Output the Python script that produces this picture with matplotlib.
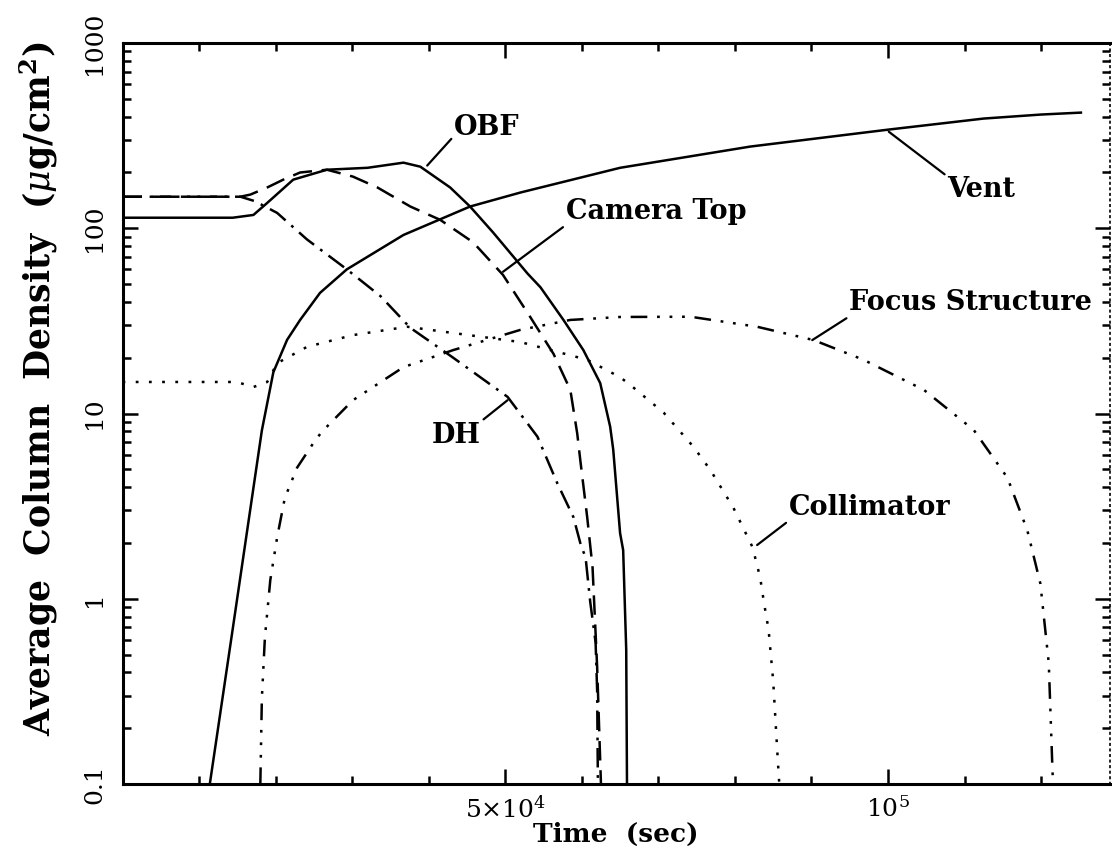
import matplotlib
matplotlib.use("Agg")
import matplotlib.pyplot as plt
from matplotlib.ticker import FixedLocator, LogLocator, NullFormatter

# time in units of 1000 s, average column density in ug/cm^2
obf_t = [0, 14.4, 17.1, 18.9, 22.3, 26.7, 32.0, 36.7, 38.9, 42.8, 45.4, 48.4,
         52.9, 54.6, 57.6, 60.2, 62.4, 63.7, 64.1, 65.0, 65.4, 65.8, 65.9]
obf_n = [114, 114, 118, 137, 183, 207, 212, 226, 215, 166, 131, 95,
         57, 48, 32, 22, 14.6, 8.5, 6.4, 2.26, 1.83, 0.53, 0.1]

vent_t = [11.4, 14.4, 18.2, 19.7, 21.5, 23.2, 25.8, 29.3, 36.7, 45.4, 52.0,
          65.0, 82.0, 100.1, 112.5, 120.0, 125.2]
vent_n = [0.1, 0.69, 8.1, 16.7, 25, 32, 44.8, 60, 92, 131, 156,
          212, 276, 341, 391, 411, 421]

cam_t = [0, 15.4, 16.7, 18.9, 21.0, 23.2, 26.7, 30.1, 33.3, 37.6, 41.5, 45.8,
         49.7, 53.3, 56.3, 58.5, 59.4, 59.8, 60.7, 61.4, 62.0, 62.4, 62.5]
cam_n = [148, 148, 152, 166, 183, 200, 207, 190, 166, 131, 111, 84,
         56, 33, 21, 13.4, 7.8, 5.6, 2.76, 1.48, 0.43, 0.134, 0.1]

dh_t = [0, 15.4, 17.3, 20.2, 24.1, 29.3, 33.7, 37.6, 43.2, 50.3, 54.2,
        56.8, 58.9, 59.8, 60.5, 61.1, 61.8, 62.0, 62.1]
dh_n = [148, 148, 140, 121, 87, 60, 43, 29, 20, 12.3, 7.5,
        4.2, 2.76, 2.0, 1.66, 0.96, 0.58, 0.32, 0.1]

col_t = [0, 14.9, 17.1, 18.9, 20.2, 24.1, 30.1, 37.2, 43.2, 52.0, 60.7, 65.0,
         66.3, 70.7, 74.6, 76.8, 79.8, 82.3, 83.3, 83.8, 84.4, 85.0, 85.7, 85.8]
col_n = [14.8, 14.8, 13.9, 14.8, 18.7, 22.9, 26.5, 29.4, 27.2, 24.3, 19.5, 15.7,
         14.3, 10.1, 6.6, 4.95, 3.1, 1.9, 1.3, 0.95, 0.68, 0.36, 0.115, 0.1]

foc_t = [18.0, 18.2, 18.6, 19.3, 20.2, 21.2, 22.8, 24.9, 26.0, 30.1, 36.7, 43.2,
         52.0, 58.5, 65.0, 74.2, 82.9, 90.3, 96.8, 104.7, 111.2, 115.6, 118.2,
         119.9, 121.0, 121.5, 121.6]
foc_n = [0.1, 0.29, 0.62, 1.26, 2.15, 3.5, 5.1, 6.9, 7.94, 11.8, 17.8, 22,
         28.3, 32, 33.2, 33.3, 29.4, 24.9, 19.5, 13.4, 8.15, 4.5, 2.34,
         1.21, 0.45, 0.114, 0.1]

xticks = [5e4, 1e5]
xtick_labels = [r"$5{\times}10^4$", r"$10^5$"]
yticks = [0.1, 1, 10, 100, 1000]
ytick_labels = ["0.1", "1", "10", "100", "1000"]

plt.rcParams["mathtext.fontset"] = "dejavuserif"
plt.rcParams["font.family"] = "DejaVu Serif"
plt.rcParams["lines.scale_dashes"] = False

fig = plt.figure(figsize=(11.12, 8.67), dpi=100)
ax = fig.add_axes([0.1102, 0.0957, 0.888, 0.8547])

k = 1000.0
lw = 1.8
ax.plot([t * k for t in obf_t], obf_n, color="black", lw=lw)
ax.plot([t * k for t in vent_t], vent_n, color="black", lw=lw)
ax.plot([t * k for t in cam_t], cam_n, color="black", lw=lw, dashes=(14, 7))
ax.plot([t * k for t in dh_t], dh_n, color="black", lw=lw, dashes=(14, 5.5, 2, 5.5))
ax.plot([t * k for t in col_t], col_n, color="black", lw=lw, dashes=(2, 7.5))
ax.plot([t * k for t in foc_t], foc_n, color="black", lw=lw,
        dashes=(12, 7, 2, 7, 2, 7, 2, 7))

ax.set_xscale("linear")
ax.set_yscale("log")
ax.set_xlim(0, 1.29e5)
ax.set_ylim(0.1, 1000)

ax.xaxis.set_major_locator(FixedLocator(xticks))
ax.set_xticklabels(xtick_labels)
ax.xaxis.set_minor_locator(FixedLocator([i * 1e4 for i in range(1, 13)]))
ax.set_yticks(yticks)
ax.set_yticklabels(ytick_labels, rotation=90, va="center")
ax.yaxis.set_minor_locator(LogLocator(base=10, subs=range(2, 10)))
ax.yaxis.set_minor_formatter(NullFormatter())

ax.tick_params(which="both", direction="in", top=True, right=True,
               width=1.8, labelsize=18, colors="black")
ax.tick_params(which="major", length=11)
ax.tick_params(which="minor", length=6)
ax.tick_params(axis="x", pad=9)
ax.tick_params(axis="y", pad=12)

for s in ["left", "bottom", "top"]:
    ax.spines[s].set_linewidth(2.2)
ax.spines["right"].set_linewidth(1.2)
ax.spines["right"].set_linestyle((0, (1, 3)))

ax.set_xlabel("Time  (sec)", fontsize=19, fontweight="bold", va="center")
ax.xaxis.set_label_coords(0.4998, -0.0675)
ax.set_ylabel(r"Average  Column  Density  ($\mu$g/cm$^{\mathbf{2}}$)",
              fontsize=25, fontweight="bold", va="center")
ax.yaxis.set_label_coords(-0.0846, 0.534)

lab = dict(fontsize=19.5, fontweight="bold", ha="center", va="center")
arr = dict(arrowstyle="-", lw=1.6, color="black", shrinkA=0, shrinkB=0)
ax.annotate("OBF", xy=(39.8e3, 218), xytext=(47.6e3, 349),
            arrowprops=dict(arr, relpos=(0, 0.2)), **lab)
ax.annotate("Camera Top", xy=(49.7e3, 58.2), xytext=(69.7e3, 123),
            arrowprops=dict(arr, relpos=(0, 0)), **lab)
ax.annotate("Vent", xy=(100.1e3, 332), xytext=(112.2e3, 161),
            arrowprops=dict(arr, relpos=(0, 1)), **lab)
ax.annotate("Focus Structure", xy=(90.1e3, 24.9), xytext=(110.8e3, 39.5),
            arrowprops=dict(arr, relpos=(0, 0)), **lab)
ax.annotate("Collimator", xy=(82.9e3, 1.95), xytext=(97.6e3, 3.12),
            arrowprops=dict(arr, relpos=(0, 0)), **lab)
ax.annotate("DH", xy=(50.3e3, 11.8), xytext=(43.6e3, 7.65),
            arrowprops=dict(arr, relpos=(1, 1)), **lab)

fig.savefig("out.png", dpi=100)
